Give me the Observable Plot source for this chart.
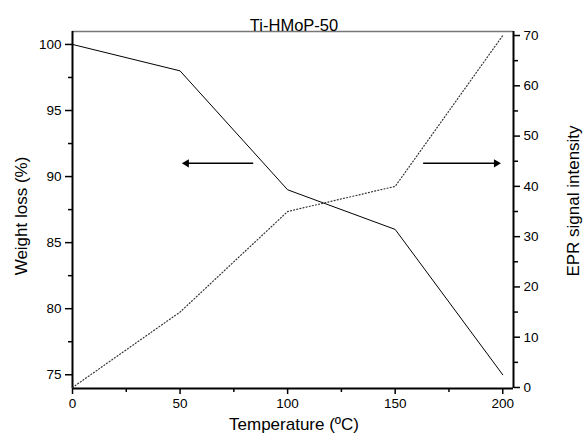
<!DOCTYPE html>
<html><head><meta charset="utf-8">
<script src="https://cdn.jsdelivr.net/npm/d3@7"></script>
<script src="https://cdn.jsdelivr.net/npm/@observablehq/plot@0.6"></script>
<style>body{margin:0;background:#fff}</style>
</head><body><div id="chart"></div>
<script>
const temperatures = [0, 50, 100, 150, 200];
const weightLoss = [100, 98, 89, 86, 75];
const eprSignal = [0, 15, 35, 40, 70];
const xTicks = [0, 50, 100, 150, 200];
const xMinorTicks = [25, 75, 125, 175];
const leftTicks = [75, 80, 85, 90, 95, 100];
const leftMinorTicks = [77.5, 82.5, 87.5, 92.5, 97.5];
const rightTicks = [0, 10, 20, 30, 40, 50, 60, 70];
const rightMinorTicks = [5, 15, 25, 35, 45, 55, 65];
const title = "Ti-HMoP-50";
const xLabel = "Temperature (ºC)";
const leftLabel = "Weight loss (%)";
const rightLabel = "EPR signal intensity";
// arrows indicating which axis each curve belongs to (in data units of x / left y)
const arrowsX1 = [84, 163];
const arrowsX2 = [53, 197];
const arrowsY = [91, 91];

const xDomain = [0, 205];
const leftDomain = [73.96, 100.98];
const rightDomain = [-0.2, 70.8];
const toLeft = r => leftDomain[0] + (r - rightDomain[0]) * (leftDomain[1] - leftDomain[0]) / (rightDomain[1] - rightDomain[0]);
const fromLeft = l => rightDomain[0] + (l - leftDomain[0]) * (rightDomain[1] - rightDomain[0]) / (leftDomain[1] - leftDomain[0]);

const wData = temperatures.map((t, i) => ({t, v: weightLoss[i]}));
const eData = temperatures.map((t, i) => ({t, v: toLeft(eprSignal[i])}));
const arrows = arrowsX1.map((x1, i) => ({x1, x2: arrowsX2[i], y: arrowsY[i], dir: x1 > arrowsX2[i] ? -90 : 90}));

const font = "Liberation Sans, Arial, sans-serif";
const tickFont = 13.5;
const labelFont = 17;
const chart = Plot.plot({
  width: 583, height: 441,
  marginLeft: 72, marginRight: 70, marginTop: 31, marginBottom: 53,
  style: {fontFamily: font, fontSize: tickFont + "px", color: "#000", background: "#fff"},
  x: {domain: xDomain},
  y: {domain: leftDomain},
  marks: [
    Plot.ruleY([leftDomain[1]], {stroke: "#777", strokeWidth: 1.5}),
    Plot.axisX({ticks: xTicks, tickSize: 6, tickPadding: 4, tickFormat: d => d, label: null, strokeWidth: 1.5, fontSize: tickFont}),
    Plot.axisX({ticks: xMinorTicks, tickSize: 4, tickFormat: () => "", label: null, strokeWidth: 1.5}),
    Plot.axisY({ticks: leftTicks, tickSize: 7, tickPadding: 4, tickFormat: d => d, label: null, strokeWidth: 1.5, fontSize: tickFont}),
    Plot.axisY({ticks: leftMinorTicks, tickSize: 4, tickFormat: () => "", label: null, strokeWidth: 1.5}),
    Plot.axisY(rightTicks.map(toLeft), {anchor: "right", tickSize: 6, tickPadding: 4, tickFormat: d => Math.round(fromLeft(d)), label: null, strokeWidth: 1.5, fontSize: tickFont}),
    Plot.axisY(rightMinorTicks.map(toLeft), {anchor: "right", tickSize: 4, tickFormat: () => "", label: null, strokeWidth: 1.5}),
    Plot.ruleX([xDomain[0], xDomain[1]], {stroke: "#000", strokeWidth: 2}),
    Plot.ruleY([leftDomain[0]], {stroke: "#000", strokeWidth: 2}),
    Plot.line(wData, {x: "t", y: "v", stroke: "#000", strokeWidth: 1}),
    Plot.line(eData, {x: "t", y: "v", stroke: "#333", strokeWidth: 1.2, strokeDasharray: "1,2.2"}),
    Plot.link(arrows, {x1: "x1", x2: "x2", y1: "y", y2: "y", stroke: "#000", strokeWidth: 1.5}),
    Plot.dot(arrows, {x: "x2", y: "y", symbol: "triangle", r: 3, fill: "#000", stroke: null, rotate: "dir"}),
    Plot.text([title], {frameAnchor: "top", textAnchor: "middle", dx: 1, dy: -12, fontSize: 16.5, fill: "#000"}),
    Plot.text([xLabel], {frameAnchor: "bottom", textAnchor: "middle", dx: 1, dy: 41, fontSize: labelFont, fill: "#000"}),
    Plot.text([leftLabel], {frameAnchor: "left", textAnchor: "middle", dx: -51, dy: 6, rotate: -90, fontSize: labelFont, fill: "#000"}),
    Plot.text([rightLabel], {frameAnchor: "right", textAnchor: "middle", dx: 60, dy: -9, rotate: -90, fontSize: labelFont, fill: "#000"})
  ]
});
document.getElementById("chart").appendChild(chart);
</script>
</body></html>
